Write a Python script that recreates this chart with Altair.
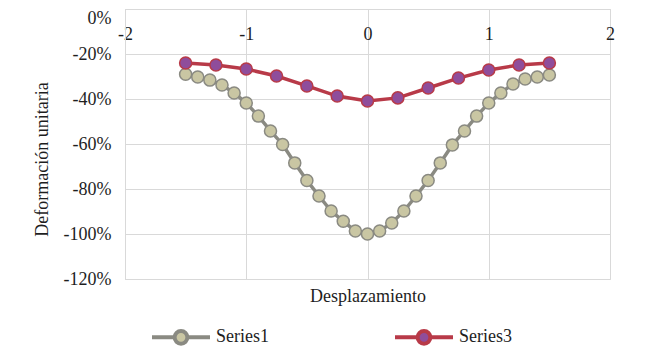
import altair as alt
import pandas as pd

# Series1: step 0.1 from -1.5 to 1.5
x1 = [-1.5, -1.4, -1.3, -1.2, -1.1, -1.0, -0.9, -0.8, -0.7, -0.6, -0.5, -0.4, -0.3, -0.2, -0.1,
      0.0, 0.1, 0.2, 0.3, 0.4, 0.5, 0.6, 0.7, 0.8, 0.9, 1.0, 1.1, 1.2, 1.3, 1.4, 1.5]
s1 = [-0.29, -0.302, -0.316, -0.338, -0.373, -0.418, -0.476, -0.542, -0.602, -0.684, -0.762,
      -0.831, -0.898, -0.943, -0.987, -1.0, -0.987, -0.951, -0.898, -0.831, -0.762, -0.684,
      -0.604, -0.542, -0.476, -0.418, -0.373, -0.333, -0.311, -0.302, -0.293]

# Series3: step 0.25 from -1.5 to 1.5
x3 = [-1.5, -1.25, -1.0, -0.75, -0.5, -0.25, 0.0, 0.25, 0.5, 0.75, 1.0, 1.25, 1.5]
s3 = [-0.24, -0.249, -0.267, -0.298, -0.342, -0.387, -0.409, -0.395, -0.351, -0.307,
      -0.271, -0.249, -0.24]

series_names = ["Series1", "Series3"]
line_colors = ["#8a8a82", "#b83a48"]
fill_colors = ["#c9c6a3", "#8f4d9b"]

x_ticks = [-2, -1, 0, 1, 2]
y_ticks = [0, -0.2, -0.4, -0.6, -0.8, -1.0, -1.2]

df = pd.concat([
    pd.DataFrame({"x": x1, "y": s1, "serie": series_names[0]}),
    pd.DataFrame({"x": x3, "y": s3, "serie": series_names[1]}),
], ignore_index=True)

FONT = "Liberation Serif"
GRID = "#d9d9d9"
TXT = "#1e1e1e"

legend_path = ("M-1,0H-0.22M0.22,0H1M0.22,0A0.22,0.22,0,1,1,-0.22,0"
               "A0.22,0.22,0,1,1,0.22,0Z")

legend = alt.Legend(
    orient="none", legendX=25, legendY=297, direction="horizontal", title=None,
    symbolType=legend_path, symbolSize=3364, symbolStrokeWidth=4,
    columnPadding=118, labelOffset=4, labelFont=FONT, labelFontSize=18,
    labelColor=TXT, padding=0,
)

x_enc = alt.X(
    "x:Q",
    scale=alt.Scale(domain=[-2, 2], nice=False),
    axis=alt.Axis(
        orient="top", values=x_ticks, ticks=False, tickSize=0, domain=True,
        domainColor=GRID, grid=True, gridColor=GRID, labelPadding=-16,
        labelBaseline="top", labelFlush=False, labelOverlap=False,
        labelExpr="replace(datum.label, '\u2212', '-')",
        labelFont=FONT, labelFontSize=18, labelColor=TXT,
        title="Desplazamiento", titleY=287, titleBaseline="middle",
        titleFont=FONT, titleFontSize=18, titleFontWeight="normal", titleColor=TXT,
    ),
)
y_enc = alt.Y(
    "y:Q",
    scale=alt.Scale(domain=[-1.2, 0], nice=False),
    axis=alt.Axis(
        values=y_ticks, format=".0%", ticks=False, tickSize=0, domain=True,
        domainColor=GRID, grid=True, gridColor=GRID, labelPadding=14,
        labelOffset={"condition": {"test": "datum.value == 0", "value": 9}, "value": 0},
        labelExpr="replace(datum.label, '\u2212', '-')",
        labelFont=FONT, labelFontSize=18, labelColor=TXT,
        title="Deformación unitaria", titleX=-83, titleY=150,
        titleAlign="center", titleBaseline="middle",
        titleFont=FONT, titleFontSize=18, titleFontWeight="normal", titleColor=TXT,
    ),
)

stroke_enc = alt.Stroke("serie:N", scale=alt.Scale(domain=series_names, range=line_colors),
                        legend=legend)
fill_enc = alt.Fill("serie:N", scale=alt.Scale(domain=series_names, range=fill_colors),
                    legend=legend)

lines = alt.Chart(df).mark_line(strokeWidth=3.5).encode(
    x=x_enc, y=y_enc, stroke=stroke_enc, detail="serie:N"
)
points = alt.Chart(df).mark_point(shape="circle", filled=True, size=145, strokeWidth=1.5,
                                  opacity=1, fillOpacity=1).encode(
    x=x_enc, y=y_enc, fill=fill_enc, stroke=stroke_enc
)

chart = alt.layer(lines, points).properties(
    width=485, height=270,
    autosize=alt.AutoSizeParams(type="none"),
    padding={"left": 117, "top": 1, "right": 32, "bottom": 70},
).configure_view(stroke=None).configure_axis(
    labelFont=FONT, titleFont=FONT
).configure_legend(
    labelFont=FONT
).configure(font=FONT)

chart.save("out.html", embed_options={"renderer": "svg", "actions": False})
